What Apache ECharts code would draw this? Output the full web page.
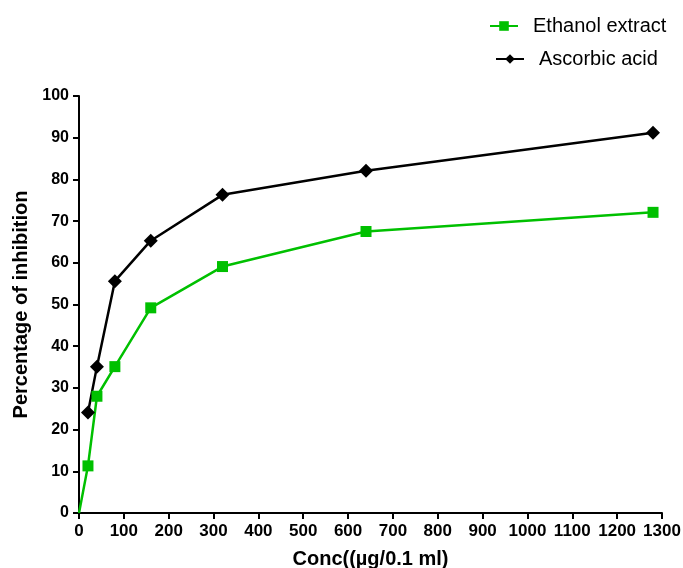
<!DOCTYPE html>
<html>
<head>
<meta charset="utf-8">
<script src="https://cdn.jsdelivr.net/npm/echarts@6/dist/echarts.min.js"></script>
<style>
  html, body { margin: 0; padding: 0; background: #fff; }
  #main { width: 683px; height: 568px; }
</style>
</head>
<body>
<div id="main"></div>
<script>
// concentrations and % inhibition
var conc = [0, 20, 40, 80, 160, 320, 640, 1280];
var ethanolExtract = [0, 11.3, 28.0, 35.1, 49.2, 59.1, 67.5, 72.1];
var ascorbicConc = [20, 40, 80, 160, 320, 640, 1280];
var ascorbicAcid = [24.1, 35.1, 55.6, 65.3, 76.3, 82.1, 91.2];

var green = '#00c000';
var font = 'Liberation Sans, Arial, sans-serif';

var chart = echarts.init(document.getElementById('main'));

var ethData = conc.map(function (c, i) {
    var p = { value: [c, ethanolExtract[i]] };
    if (c === 0) p.symbol = 'none';
    return p;
});
var ascData = ascorbicConc.map(function (c, i) { return [c, ascorbicAcid[i]]; });

var legendText = { fontFamily: font, fontSize: 20, color: '#000', padding: [0, 0, 0, 10] };

chart.setOption({
    animation: false,
    grid: { left: 79, right: 21, top: 96, bottom: 55, outerBoundsMode: 'none' },
    legend: [
        {
            left: 489, top: 16, padding: 0,
            itemWidth: 28, itemHeight: 12,
            textStyle: legendText,
            data: ['Ethanol extract']
        },
        {
            left: 495, top: 49, padding: 0,
            itemWidth: 28, itemHeight: 12,
            textStyle: legendText,
            data: ['Ascorbic acid']
        }
    ],
    xAxis: {
        type: 'value',
        min: 0, max: 1300, interval: 100,
        name: 'Conc((µg/0.1 ml)',
        nameLocation: 'middle',
        nameGap: 36,
        nameTextStyle: { fontFamily: font, fontSize: 20, fontWeight: 'bold', color: '#000' },
        axisLine: { lineStyle: { color: '#000', width: 2 } },
        axisTick: { length: 6, lineStyle: { color: '#000', width: 2 } },
        axisLabel: {
            fontFamily: font, fontSize: 17, fontWeight: 'bold', color: '#000', margin: 10,
            formatter: function (v) { return String(v); }
        },
        splitLine: { show: false }
    },
    yAxis: {
        type: 'value',
        min: 0, max: 100, interval: 10,
        name: 'Percentage of inhibition',
        nameLocation: 'middle',
        nameGap: 48,
        nameTextStyle: { fontFamily: font, fontSize: 20, fontWeight: 'bold', color: '#000' },
        axisLine: { show: true, lineStyle: { color: '#000', width: 2 } },
        axisTick: { show: true, length: 6, lineStyle: { color: '#000', width: 2 } },
        axisLabel: { fontFamily: font, fontSize: 16, fontWeight: 'bold', color: '#000', margin: 10 },
        splitLine: { show: false }
    },
    series: [
        {
            name: 'Ethanol extract',
            type: 'line',
            data: ethData,
            symbol: 'rect',
            symbolSize: 11,
            itemStyle: { color: green },
            lineStyle: { color: green, width: 2.5 }
        },
        {
            name: 'Ascorbic acid',
            type: 'line',
            data: ascData,
            symbol: 'diamond',
            symbolSize: 14,
            itemStyle: { color: '#000' },
            lineStyle: { color: '#000', width: 2.5 }
        }
    ]
});
</script>
</body>
</html>
